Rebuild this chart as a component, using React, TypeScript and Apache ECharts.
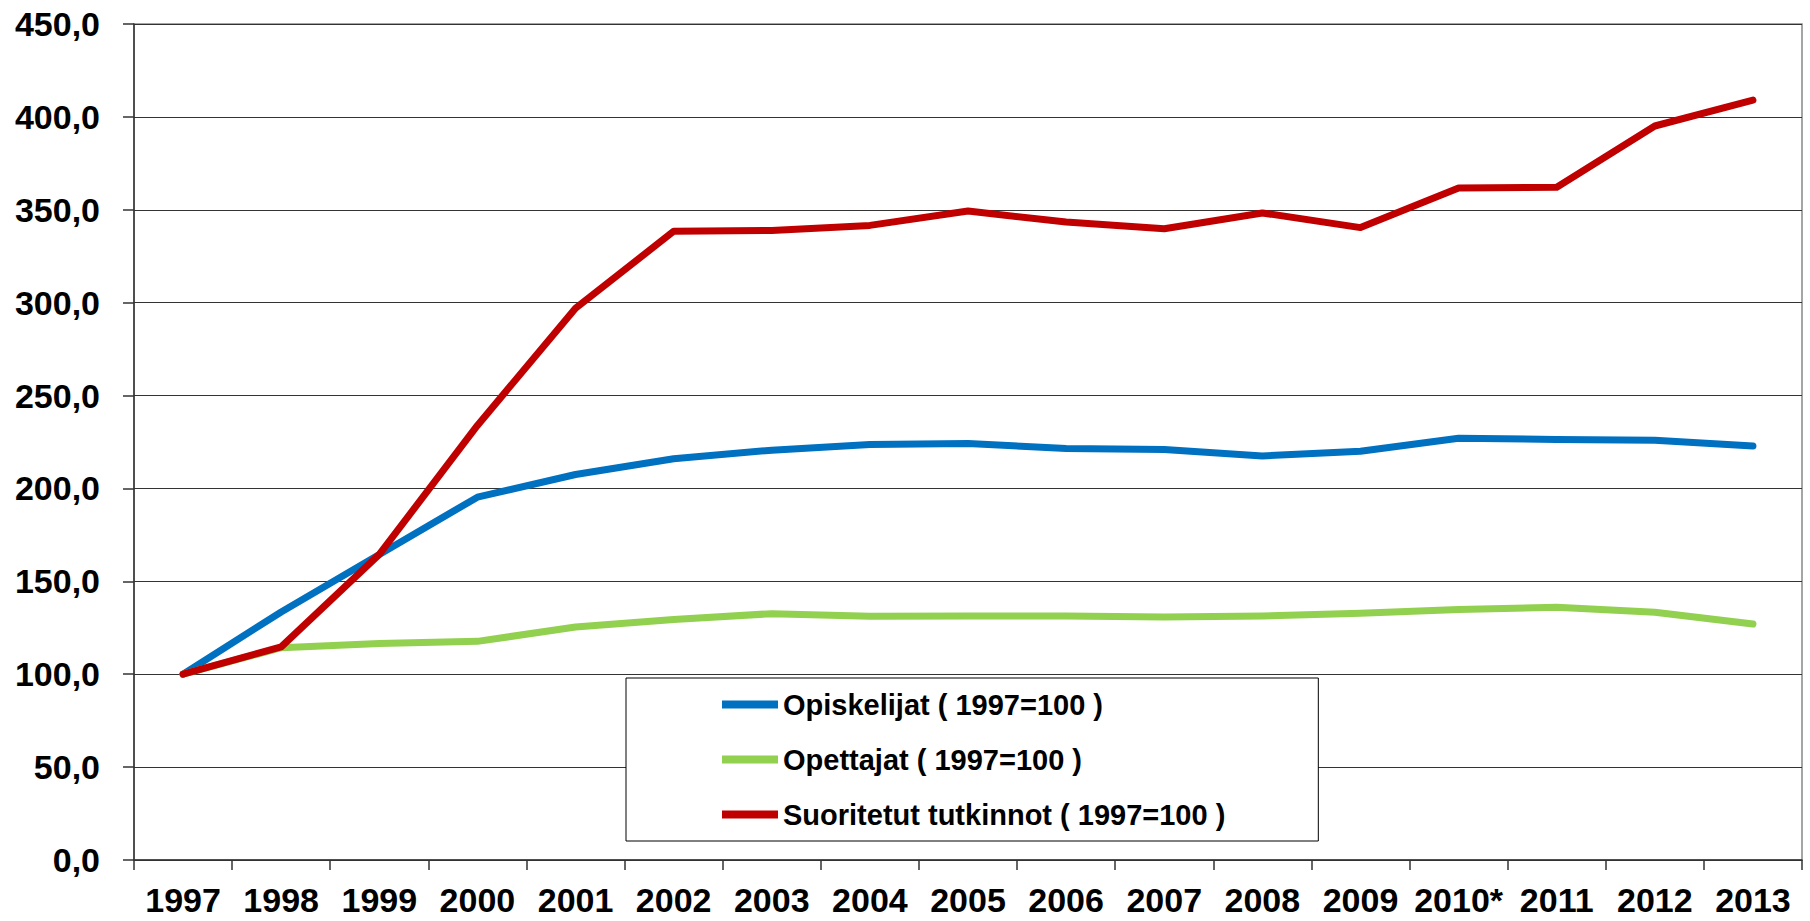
import React, { useEffect, useRef } from "react";
import * as echarts from "echarts";

const years = ["1997", "1998", "1999", "2000", "2001", "2002", "2003", "2004", "2005", "2006", "2007", "2008", "2009", "2010*", "2011", "2012", "2013"];
const opiskelijat = [100, 133.5, 164.5, 195.3, 207.5, 216, 220.6, 223.7, 224.2, 221.5, 221, 217.5, 220, 227, 226.4, 226, 222.8];
const opettajat = [100, 114.3, 116.5, 117.7, 125.4, 129.4, 132.6, 131.2, 131.4, 131.4, 130.8, 131.3, 132.8, 134.9, 136, 133.4, 127];
const tutkinnot = [100, 114.7, 164.5, 233.9, 297, 338.4, 338.9, 341.6, 349.3, 343.4, 339.8, 348.3, 340.4, 361.7, 362.1, 395.1, 409];
const seriesNames = ["Opiskelijat ( 1997=100 )", "Opettajat ( 1997=100 )", "Suoritetut tutkinnot ( 1997=100 )"];
const seriesColors = ["#0070C0", "#92D050", "#C00000"];

const FONT = "'Liberation Sans', Arial, sans-serif";

export default function App() {
  const ref = useRef<HTMLDivElement>(null);
  useEffect(() => {
    if (!ref.current) return;
    const chart = echarts.init(ref.current, null, { renderer: "svg" });
    const values = [opiskelijat, opettajat, tutkinnot];
    chart.setOption({
      animation: false,
      backgroundColor: "#fff",
      grid: {
        left: 134,
        right: 8,
        top: 24,
        bottom: 61,
        show: true,
        borderColor: "#888",
        borderWidth: 1.5,
        backgroundColor: "transparent",
      },
      legend: {
        orient: "vertical",
        left: 626,
        top: 678,
        padding: [12, 93, 12, 96],
        itemGap: 26,
        itemWidth: 56,
        itemHeight: 8,
        icon: "rect",
        borderColor: "#000",
        borderWidth: 1,
        backgroundColor: "#fff",
        lineStyle: { width: 7, cap: "round" },
        textStyle: { fontSize: 29, fontWeight: "bold", fontFamily: FONT, color: "#000", lineHeight: 29 },
        data: seriesNames,
      },
      xAxis: {
        type: "category",
        data: years,
        boundaryGap: true,
        axisLine: { lineStyle: { color: "#333", width: 1.5 } },
        axisTick: { show: true, length: 10, lineStyle: { color: "#333", width: 1.5 } },
        axisLabel: { interval: 0, margin: 23, fontSize: 34, fontWeight: "bold", fontFamily: FONT, color: "#000" },
        splitLine: { show: false },
      },
      yAxis: {
        type: "value",
        min: 0,
        max: 450,
        interval: 50,
        axisLine: { show: true, lineStyle: { color: "#333", width: 1.5 } },
        axisTick: { show: true, length: 11, lineStyle: { color: "#333", width: 1.5 } },
        axisLabel: {
          margin: 34,
          fontSize: 34,
          fontWeight: "bold",
          fontFamily: FONT,
          color: "#000",
          formatter: (v: number) => v.toFixed(1).replace(".", ","),
        },
        splitLine: { show: true, lineStyle: { color: "#333", width: 1 } },
      },
      series: seriesNames.map((name, i) => ({
        name,
        type: "line",
        data: values[i],
        symbol: "none",
        color: seriesColors[i],
        itemStyle: { color: seriesColors[i] },
        lineStyle: { color: seriesColors[i], width: 7, cap: "round", join: "round" },
        z: 2 + i,
      })),
    });
    return () => chart.dispose();
  }, []);
  return <div ref={ref} style={{ position: "fixed", left: 0, top: 0, width: 1810, height: 921 }} />;
}
